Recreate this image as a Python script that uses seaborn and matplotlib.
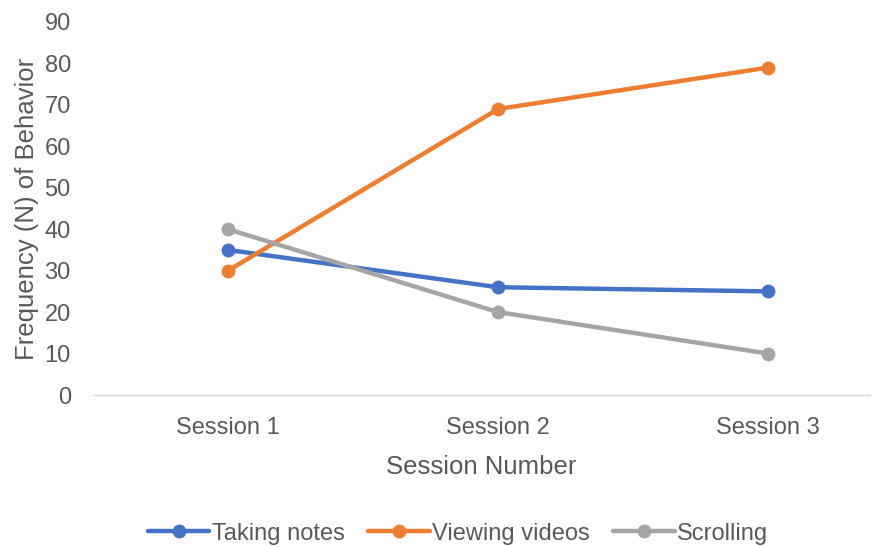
import pandas as pd
import seaborn as sns
import matplotlib.pyplot as plt

sessions = ["Session 1", "Session 2", "Session 3"]
taking_notes = [35, 26, 25]
viewing_videos = [30, 69, 79]
scrolling = [40, 20, 10]

df = pd.DataFrame({
    "session": sessions * 3,
    "value": taking_notes + viewing_videos + scrolling,
    "behavior": ["Taking notes"] * 3 + ["Viewing videos"] * 3 + ["Scrolling"] * 3,
})

sns.set_style("white")
plt.rcParams["font.family"] = ["Liberation Sans", "DejaVu Sans"]

fig = plt.figure(figsize=(8.77, 5.47), dpi=100)
ax = fig.add_axes([93 / 877, 1 - 395 / 547, (870 - 93) / 877, (395 - 22) / 547])

palette = {"Taking notes": "#4472C4", "Viewing videos": "#ED7D31", "Scrolling": "#A5A5A5"}
sns.lineplot(data=df, x="session", y="value", hue="behavior", palette=palette,
             marker="o", markersize=10, markeredgewidth=0, linewidth=3.2, ax=ax, sort=False)

ax.set_xlim(-0.5, 2.5 - 33 / 270)
ax.set_ylim(0, 90)
ax.set_yticks(range(0, 91, 10))
for s in ["top", "right", "left"]:
    ax.spines[s].set_visible(False)
ax.spines["bottom"].set_color("#d9d9d9")
ax.spines["bottom"].set_linewidth(1)
ax.tick_params(axis="both", length=0, labelsize=17, colors="#595959")
ax.tick_params(axis="x", pad=16)
ax.tick_params(axis="y", pad=16)
ax.set_xlabel("Session Number", fontsize=18.5, color="#595959", labelpad=11)
ax.set_ylabel("Frequency (N) of Behavior", fontsize=18.5, color="#595959", labelpad=4)

ax.legend(loc="center", bbox_to_anchor=(0.47, -0.372), ncol=3, frameon=False,
          fontsize=17, handlelength=2.6, handletextpad=0.1, columnspacing=1.0,
          labelcolor="#595959")

fig.savefig("out.png", dpi=100)
